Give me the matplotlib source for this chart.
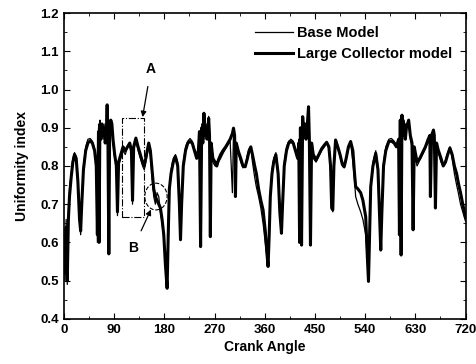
import matplotlib.pyplot as plt
from matplotlib.patches import Rectangle, Ellipse
from matplotlib.ticker import MultipleLocator

# crank angle (deg) shared by both curves
angle = [0, 2, 4, 6, 8, 10, 13, 16, 19, 22, 25, 28, 30, 32, 35, 39, 43, 47, 51, 55,
         58, 60, 62, 63, 64.5, 66, 68, 70, 72, 74, 76, 77.5, 79, 80.5, 82, 84, 86, 88, 91, 94,
         96, 98, 102, 106, 110, 114, 118, 121, 123, 125, 129, 133, 137, 141, 144, 148, 152, 155, 158, 161,
         164, 167, 170, 173, 176, 179, 182, 185, 187, 189, 192, 196, 200, 204, 207, 209, 211, 214, 218, 222,
         226, 230, 234, 238, 241, 243, 245, 247, 249, 251, 253, 255, 257, 259.5, 261, 262.5, 264, 267, 271, 274,
         277, 281, 286, 290, 294, 298, 302, 304, 306, 307.5, 309, 313, 317, 321, 325, 329, 332, 335, 338, 342,
         345, 349, 353, 357, 361, 364, 366, 368, 370, 373, 376, 380, 384, 387, 390, 392, 395, 399, 403, 407,
         411, 415, 419, 421, 422.5, 424, 426, 428, 430, 432, 434, 436, 438.5, 440, 442, 444, 447, 452, 457, 462,
         467, 471, 475, 478, 480, 482, 484, 487, 491, 495, 499, 502.5, 506, 510, 514, 518, 521, 523, 527, 532,
         536, 541, 544, 546, 548, 550, 554, 559, 563, 566, 568, 570, 573, 577, 582.5, 587, 592, 596, 600, 601.5,
         603, 604.5, 606, 608, 610, 612, 614, 618, 621, 624, 626, 628, 633, 638, 643, 648, 653, 656, 657, 659,
         662.5, 664, 666, 668, 671, 676, 680, 684, 688, 692, 696, 700, 704, 707, 711, 715, 720]

large_collector = [0.60, 0.52, 0.64, 0.50, 0.66, 0.72, 0.77, 0.81, 0.83, 0.82, 0.76, 0.66, 0.63, 0.70, 0.79, 0.84, 0.86, 0.866, 0.86, 0.84,
                   0.80, 0.62, 0.89, 0.60, 0.91, 0.87, 0.91, 0.88, 0.90, 0.86, 0.88, 0.96, 0.85, 0.57, 0.90, 0.92, 0.91, 0.87, 0.83, 0.80,
                   0.68, 0.81, 0.83, 0.85, 0.84, 0.85, 0.86, 0.84, 0.71, 0.85, 0.873, 0.85, 0.83, 0.81, 0.80, 0.83, 0.86, 0.84, 0.79, 0.74,
                   0.72, 0.71, 0.70, 0.69, 0.66, 0.62, 0.54, 0.48, 0.62, 0.74, 0.78, 0.81, 0.824, 0.80, 0.70, 0.607, 0.70, 0.80, 0.84, 0.86,
                   0.864, 0.86, 0.84, 0.82, 0.84, 0.89, 0.589, 0.90, 0.86, 0.938, 0.88, 0.90, 0.87, 0.925, 0.88, 0.615, 0.86, 0.82, 0.81, 0.80,
                   0.816, 0.83, 0.842, 0.85, 0.86, 0.87, 0.885, 0.899, 0.88, 0.72, 0.86, 0.837, 0.82, 0.80, 0.798, 0.82, 0.84, 0.85, 0.83, 0.80,
                   0.78, 0.74, 0.71, 0.685, 0.63, 0.57, 0.537, 0.62, 0.72, 0.78, 0.81, 0.829, 0.78, 0.68, 0.624, 0.70, 0.80, 0.84, 0.86, 0.864,
                   0.86, 0.84, 0.82, 0.86, 0.60, 0.90, 0.593, 0.929, 0.88, 0.91, 0.87, 0.90, 0.955, 0.87, 0.593, 0.86, 0.83, 0.816, 0.83, 0.845,
                   0.855, 0.862, 0.85, 0.80, 0.69, 0.685, 0.80, 0.868, 0.85, 0.83, 0.805, 0.798, 0.82, 0.85, 0.864, 0.84, 0.78, 0.746, 0.74, 0.73,
                   0.71, 0.667, 0.56, 0.498, 0.62, 0.746, 0.80, 0.833, 0.79, 0.66, 0.58, 0.68, 0.80, 0.84, 0.864, 0.865, 0.86, 0.85, 0.87, 0.62,
                   0.92, 0.567, 0.933, 0.88, 0.91, 0.87, 0.90, 0.92, 0.88, 0.86, 0.633, 0.85, 0.811, 0.82, 0.835, 0.85, 0.87, 0.88, 0.72, 0.88,
                   0.894, 0.88, 0.69, 0.86, 0.842, 0.82, 0.80, 0.81, 0.83, 0.847, 0.83, 0.80, 0.78, 0.756, 0.73, 0.70, 0.665]

base_model = [0.62, 0.50, 0.66, 0.49, 0.68, 0.74, 0.78, 0.82, 0.835, 0.825, 0.77, 0.67, 0.62, 0.71, 0.80, 0.85, 0.87, 0.872, 0.865, 0.845,
              0.81, 0.60, 0.90, 0.61, 0.92, 0.88, 0.90, 0.87, 0.91, 0.87, 0.89, 0.95, 0.84, 0.58, 0.92, 0.91, 0.90, 0.86, 0.82, 0.81,
              0.67, 0.80, 0.82, 0.84, 0.83, 0.85, 0.855, 0.83, 0.70, 0.84, 0.865, 0.84, 0.82, 0.80, 0.79, 0.82, 0.85, 0.83, 0.77, 0.72,
              0.70, 0.73, 0.72, 0.68, 0.65, 0.61, 0.55, 0.50, 0.60, 0.73, 0.79, 0.82, 0.83, 0.81, 0.72, 0.62, 0.71, 0.81, 0.85, 0.865,
              0.872, 0.865, 0.845, 0.83, 0.85, 0.88, 0.60, 0.91, 0.87, 0.93, 0.87, 0.91, 0.88, 0.93, 0.89, 0.63, 0.85, 0.81, 0.80, 0.80,
              0.81, 0.82, 0.835, 0.845, 0.855, 0.865, 0.73, 0.89, 0.88, 0.84, 0.85, 0.83, 0.81, 0.795, 0.80, 0.83, 0.845, 0.85, 0.81, 0.77,
              0.745, 0.72, 0.69, 0.65, 0.60, 0.56, 0.55, 0.63, 0.73, 0.79, 0.82, 0.835, 0.79, 0.70, 0.63, 0.71, 0.81, 0.85, 0.865, 0.87,
              0.865, 0.845, 0.83, 0.87, 0.61, 0.89, 0.62, 0.92, 0.89, 0.90, 0.88, 0.91, 0.94, 0.88, 0.60, 0.85, 0.82, 0.81, 0.825, 0.84,
              0.85, 0.86, 0.845, 0.79, 0.70, 0.68, 0.79, 0.86, 0.845, 0.825, 0.80, 0.795, 0.82, 0.845, 0.86, 0.81, 0.76, 0.72, 0.70, 0.68,
              0.66, 0.62, 0.55, 0.52, 0.63, 0.75, 0.81, 0.84, 0.80, 0.68, 0.60, 0.69, 0.81, 0.85, 0.87, 0.872, 0.865, 0.855, 0.86, 0.64,
              0.91, 0.58, 0.92, 0.89, 0.92, 0.88, 0.91, 0.91, 0.87, 0.85, 0.65, 0.84, 0.80, 0.815, 0.83, 0.845, 0.865, 0.87, 0.75, 0.87,
              0.88, 0.87, 0.72, 0.85, 0.835, 0.81, 0.80, 0.815, 0.835, 0.85, 0.82, 0.78, 0.75, 0.73, 0.70, 0.68, 0.655]

assert len(angle) == len(large_collector) == len(base_model)

plt.rcParams['font.family'] = 'Liberation Sans'
plt.rcParams['font.weight'] = 'bold'

fig = plt.figure(figsize=(4.77, 3.64), dpi=100)
ax = fig.add_axes([0.134, 0.124, 0.842, 0.840])

ax.plot(angle, base_model, color='black', lw=0.9, label='Base Model')
ax.plot(angle, large_collector, color='black', lw=2.2, label='Large Collector model')

ax.set_xlim(0, 720)
ax.set_ylim(0.4, 1.2)
ax.xaxis.set_major_locator(MultipleLocator(90))
ax.xaxis.set_minor_locator(MultipleLocator(45))
ax.yaxis.set_major_locator(MultipleLocator(0.1))
ax.yaxis.set_minor_locator(MultipleLocator(0.05))
ax.tick_params(which='both', direction='in', top=True, right=True, labelsize=9.5)
ax.tick_params(which='major', length=4)
ax.tick_params(which='minor', length=2.5)
ax.set_xlabel('Crank Angle', fontsize=10, fontweight='bold', labelpad=3)
ax.set_ylabel('Uniformity index', fontsize=10, fontweight='bold', labelpad=8)
for s in ax.spines.values():
    s.set_linewidth(1.2)

# annotation A: dash-dot box
ax.add_patch(Rectangle((105, 0.667), 38, 0.259, fill=False, ls='-.', lw=0.8, color='black'))
ax.annotate('A', xy=(141, 0.928), xytext=(156, 1.055), fontsize=10, fontweight='bold',
            ha='center', va='center',
            arrowprops=dict(arrowstyle='-|>', color='black', lw=0.9, shrinkA=6, shrinkB=0,
                            mutation_scale=8))

# annotation B: dashed circle
ax.add_patch(Ellipse((165, 0.72), 40, 0.07, fill=False, ls='--', lw=0.8, color='black'))
ax.annotate('B', xy=(156, 0.686), xytext=(124, 0.585), fontsize=10, fontweight='bold',
            ha='center', va='center',
            arrowprops=dict(arrowstyle='-|>', color='black', lw=0.9, shrinkA=6, shrinkB=0,
                            mutation_scale=8))

ax.legend(loc='upper right', frameon=False, fontsize=10.5, handlelength=2.6,
          handletextpad=0.3, labelspacing=0.45, borderaxespad=0.5)

fig.savefig('out.png', dpi=100)
